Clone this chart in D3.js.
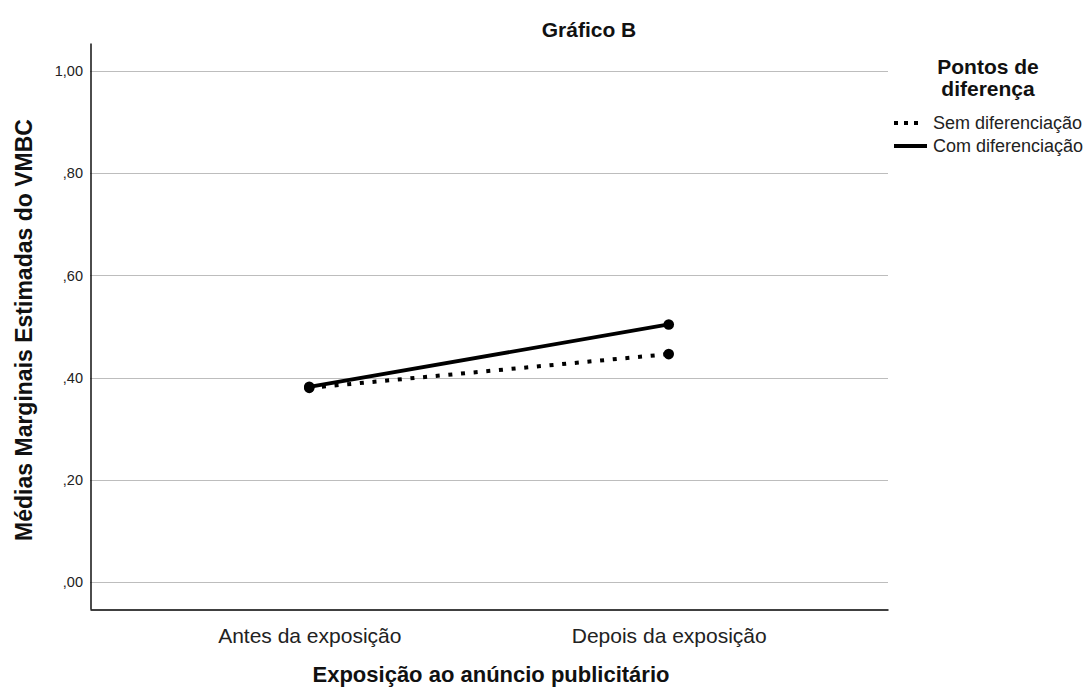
<!DOCTYPE html>
<html>
<head>
<meta charset="utf-8">
<script src="https://cdn.jsdelivr.net/npm/d3@7"></script>
<style>
  body { margin: 0; background: #fff; }
  svg { display: block; font-family: "Liberation Sans", Arial, sans-serif; }
</style>
</head>
<body>
<svg id="chart" width="1086" height="689"></svg>
<script>
const categories = ["Antes da exposição", "Depois da exposição"];
const seriesNames = ["Sem diferenciação", "Com diferenciação"];
const semValues = [0.380, 0.446];
const comValues = [0.382, 0.504];
const yTicks = [0, 0.2, 0.4, 0.6, 0.8, 1.0];
const chartTitle = "Gráfico B";
const xTitle = "Exposição ao anúncio publicitário";
const yTitle = "Médias Marginais Estimadas do VMBC";
const legendTitle = ["Pontos de", "diferença"];

const series = [
  { name: seriesNames[0], values: semValues, dash: "4,8.7", legendDash: "4,6", legendEnd: 918 },
  { name: seriesNames[1], values: comValues, dash: null, legendDash: null, legendEnd: 927 }
];

const svg = d3.select("#chart");
const pLeft = 90, pRight = 888, pTop = 43, pBottom = 609;

const y = d3.scaleLinear().domain([-0.0528, 1.0548]).range([pBottom, pTop]);
const x = d3.scalePoint().domain(categories).range([pLeft, pRight]).padding(0.61);

// gridlines
svg.append("g").selectAll("line").data(yTicks).join("line")
  .attr("x1", pLeft).attr("x2", pRight)
  .attr("y1", d => Math.round(y(d)) + 0.5).attr("y2", d => Math.round(y(d)) + 0.5)
  .attr("stroke", "#bdbdbd").attr("stroke-width", 1);

// y axis
const fmt = d => d3.format(".2f")(d).replace(".", ",").replace(/^0/, "");
const yAxis = svg.append("g").attr("transform", `translate(${pLeft + 0.5},0)`)
  .call(d3.axisLeft(y).tickValues(yTicks).tickFormat(fmt).tickSize(0).tickPadding(7.5));
yAxis.select(".domain").attr("stroke", "#000").attr("stroke-width", 1.4);
yAxis.selectAll("text").attr("font-size", "14.5px").attr("fill", "#222")
  .attr("font-family", "Liberation Sans, Arial, sans-serif");

// x axis
const xAxis = svg.append("g").attr("transform", `translate(0,${pBottom + 0.5})`)
  .call(d3.axisBottom(x).tickSize(0).tickPadding(18.5));
xAxis.select(".domain").attr("stroke", "#000").attr("stroke-width", 1.4);
xAxis.selectAll("text").attr("font-size", "21px").attr("fill", "#222")
  .attr("font-family", "Liberation Sans, Arial, sans-serif");

// lines
const line = d3.line().x((d, i) => x(categories[i])).y(d => y(d));
series.forEach(s => {
  svg.append("path").datum(s.values)
    .attr("d", line).attr("fill", "none").attr("stroke", "#000")
    .attr("stroke-width", s.dash ? 4 : 3.8)
    .attr("stroke-dasharray", s.dash);
});
series.forEach(s => {
  svg.append("g").selectAll("circle").data(s.values).join("circle")
    .attr("cx", (d, i) => x(categories[i])).attr("cy", d => y(d))
    .attr("r", 5.3).attr("fill", "#000");
});

// title
svg.append("text").attr("x", 589).attr("y", 37).attr("text-anchor", "middle")
  .attr("font-size", "21px").attr("font-weight", "bold").attr("fill", "#111").text(chartTitle);

// axis titles
svg.append("text").attr("x", (pLeft + pRight) / 2 + 2).attr("y", 682).attr("text-anchor", "middle")
  .attr("font-size", "22px").attr("font-weight", "bold").attr("fill", "#111").text(xTitle);
svg.append("text").attr("transform", `translate(32,330) rotate(-90)`)
  .attr("text-anchor", "middle")
  .attr("font-size", "23px").attr("font-weight", "bold").attr("fill", "#111").text(yTitle);

// legend
const lg = svg.append("g");
legendTitle.forEach((t, i) => {
  lg.append("text").attr("x", 988).attr("y", 74 + i * 22).attr("text-anchor", "middle")
    .attr("font-size", "21px").attr("font-weight", "bold").attr("fill", "#111").text(t);
});
series.forEach((s, i) => {
  const yy = 123 + i * 23;
  lg.append("line").attr("x1", 894).attr("x2", s.legendEnd).attr("y1", yy).attr("y2", yy)
    .attr("stroke", "#000").attr("stroke-width", 4).attr("stroke-dasharray", s.legendDash);
  lg.append("text").attr("x", 933).attr("y", yy + 6).attr("font-size", "18px")
    .attr("fill", "#222").text(s.name);
});
</script>
</body>
</html>
